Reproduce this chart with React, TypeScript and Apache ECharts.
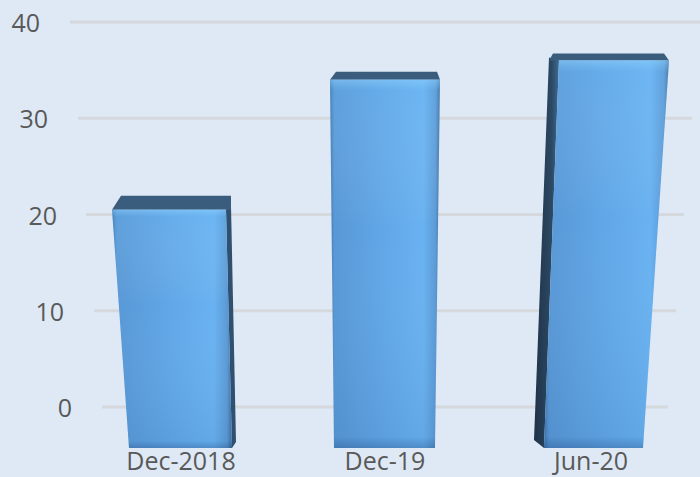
import React, { useEffect, useRef } from "react";
import * as echarts from "echarts";

const categories = ["Dec-2018", "Dec-19", "Jun-20"];
const values = [20.5, 34, 36];
const yTicks = [0, 10, 20, 30, 40];

// Perspective styling per bar (pixel offsets relative to the category centre)
const barLooks = [
  { tl: -63, tr: 51, bl: -46, br: 57, side: "right", st: 56, sb: 61, depth: 14, ddx: 3 },
  { tl: -55, tr: 55, bl: -51, br: 50, side: "none", st: 0, sb: 0, depth: 8, ddx: 0 },
  { tl: -36, tr: 74, bl: -51, br: 48, side: "left", st: -46, sb: -61, depth: 7, ddx: -2 },
];
const labelPad = [
  [0, 0, 0, 12],
  [0, 0, 0, 0],
  [0, 8, 0, 0],
];
const yPad: Record<number, number> = { 0: 0, 10: 8, 20: 15, 30: 24, 40: 32 };

const FONT = "'Open Sans', Lato, sans-serif";
const FS = 25;
const TXT = "#595959";

export default function App() {
  const ref = useRef<HTMLDivElement>(null);
  useEffect(() => {
    if (!ref.current) return;
    const chart = echarts.init(ref.current, undefined, { renderer: "svg" });
    const yRich: any = {};
    yTicks.forEach((v) => {
      yRich["p" + v] = { fontSize: FS, fontFamily: FONT, color: TXT, padding: [0, yPad[v], 0, 0] };
    });
    const xRich: any = {};
    categories.forEach((c, i) => {
      xRich["c" + i] = { fontSize: FS, fontFamily: FONT, color: TXT, padding: labelPad[i] };
    });
    chart.setOption({
      animation: false,
      backgroundColor: "#dee9f5",
      grid: { left: 70, right: -5, top: 22, bottom: 70 },
      xAxis: {
        type: "category",
        data: categories,
        axisLine: { show: false },
        axisTick: { show: false },
        axisLabel: {
          interval: 0,
          margin: 40,
          fontSize: FS,
          fontFamily: FONT,
          color: TXT,
          formatter: (v: string) => `{c${categories.indexOf(v)}|${v}}`,
          rich: xRich,
        },
      },
      yAxis: {
        type: "value",
        min: 0,
        max: 40,
        interval: 10,
        axisLine: { show: false },
        axisTick: { show: false },
        splitLine: { show: false },
        axisLabel: {
          margin: -2,
          fontSize: FS,
          fontFamily: FONT,
          color: TXT,
          formatter: (v: number) => `{p${v}|${v}}`,
          rich: yRich,
        },
      },
      series: [
        {
          type: "custom",
          silent: true,
          clip: false,
          z: 1,
          data: yTicks.map((v) => [0, v]),
          renderItem: (params: any, api: any) => {
            const v = api.value(1);
            const cs = params.coordSys;
            const y = api.coord([0, v])[1];
            const x1 = cs.x + (40 - v) * 0.8;
            const x2 = cs.x + cs.width - (40 - v) * 0.8;
            return {
              type: "line",
              shape: { x1, y1: y, x2, y2: y },
              style: { stroke: "#d5d8dc", lineWidth: 3 },
            };
          },
        },
        {
          type: "custom",
          clip: false,
          z: 5,
          data: values.map((v, i) => [i, v]),
          renderItem: (params: any, api: any) => {
            const i = api.value(0);
            const v = api.value(1);
            const top = api.coord([i, v]);
            const base = api.coord([i, 0]);
            const s = barLooks[i];
            const xc = top[0];
            const yT = top[1];
            const yB = base[1] + 41;
            const children: any[] = [];
            const front = [
              [xc + s.tl, yT],
              [xc + s.tr, yT],
              [xc + s.br, yB],
              [xc + s.bl, yB],
            ];
            if (s.side === "right") {
              children.push({
                type: "polygon",
                shape: { points: [[xc + s.tr, yT], [xc + s.st, yT - 4], [xc + s.sb, yB - 6], [xc + s.br, yB]] },
                style: { fill: "#2f5070" },
              });
            } else if (s.side === "left") {
              children.push({
                type: "polygon",
                shape: { points: [[xc + s.st, yT - 3], [xc + s.tl, yT], [xc + s.bl, yB], [xc + s.sb, yB - 8]] },
                style: {
                  fill: { type: "linear", x: 0, y: 0, x2: 1, y2: 0, colorStops: [
                    { offset: 0, color: "#1f3348" },
                    { offset: 0.7, color: "#2c4863" },
                    { offset: 1, color: "#3d6a93" },
                  ] },
                },
              });
            }
            const tlx = s.side === "left" ? xc + s.st : xc + s.tl;
            const trx = s.side === "right" ? xc + s.st : xc + s.tr;
            children.push({
              type: "polygon",
              smooth: 0.15,
              shape: {
                points: [
                  [tlx, yT],
                  [trx, yT],
                  [trx + s.ddx - 3, yT - s.depth],
                  [tlx + s.ddx + 6, yT - s.depth],
                ],
              },
              style: { fill: "#3a5d7e" },
            });
            children.push({
              type: "polygon",
              shape: { points: front },
              style: {
                fill: { type: "linear", x: 0, y: 0, x2: 1, y2: 0, colorStops: [
                  { offset: 0, color: "#3f78b0" },
                  { offset: 0.04, color: "#5898d6" },
                  { offset: 0.45, color: "#61a6e6" },
                  { offset: 0.85, color: "#69b2f1" },
                  { offset: 0.96, color: "#5b9ad6" },
                  { offset: 1, color: "#3e6f9e" },
                ] },
              },
            });
            children.push({
              type: "polygon",
              shape: { points: front },
              style: {
                fill: { type: "linear", x: 0, y: 0, x2: 0, y2: 1, colorStops: [
                  { offset: 0, color: "rgba(150,215,255,0.5)" },
                  { offset: 0.03, color: "rgba(130,205,255,0.15)" },
                  { offset: 0.4, color: "rgba(255,255,255,0)" },
                  { offset: 0.97, color: "rgba(0,30,80,0.06)" },
                  { offset: 1, color: "rgba(0,30,80,0.25)" },
                ] },
              },
            });
            return { type: "group", children };
          },
        },
      ],
    });
    return () => chart.dispose();
  }, []);
  return <div ref={ref} style={{ position: "fixed", left: 0, top: 0, width: 700, height: 477 }} />;
}
